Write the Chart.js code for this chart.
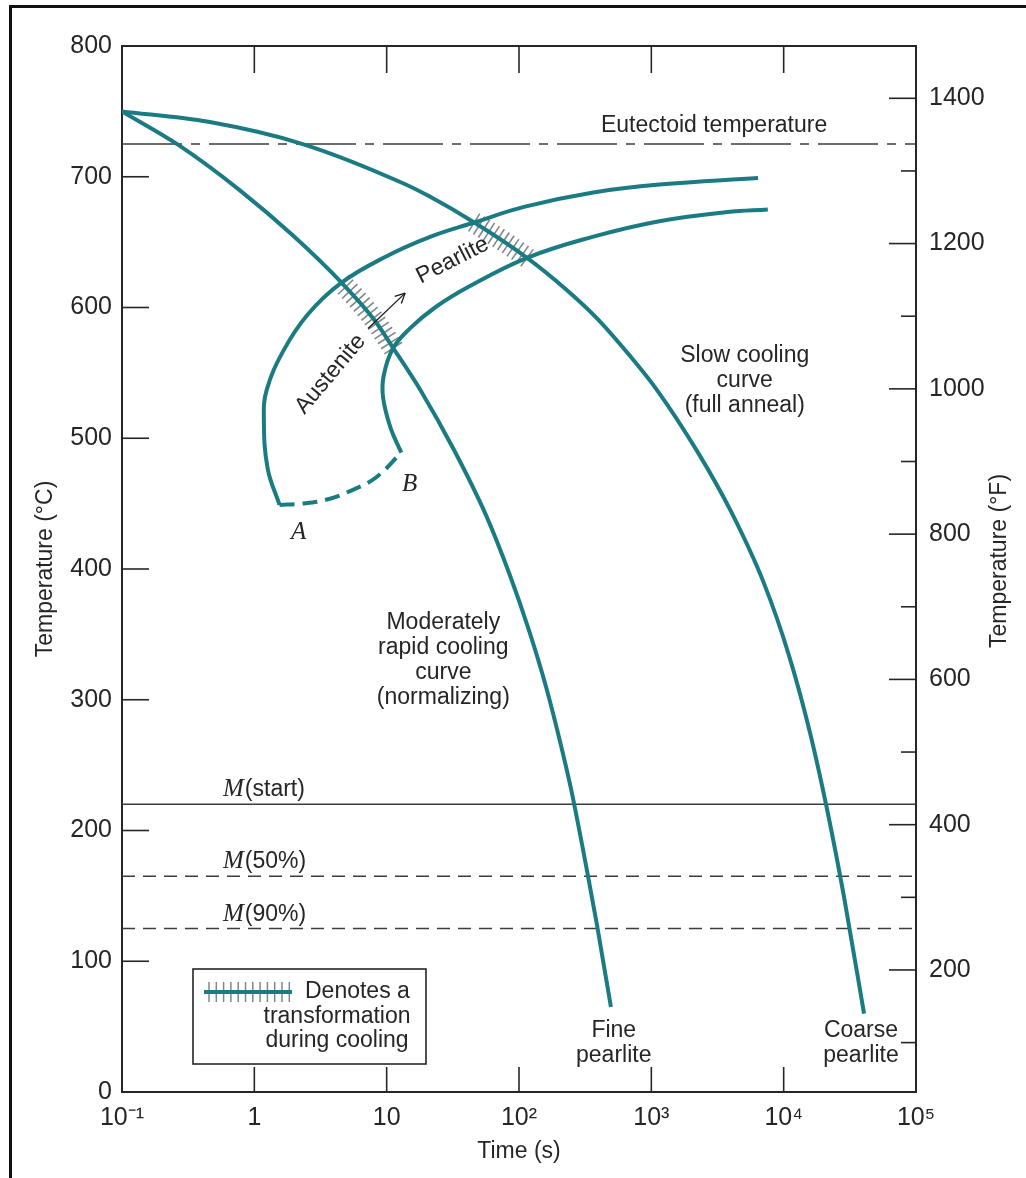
<!DOCTYPE html>
<html lang="en">
<head>
<meta charset="utf-8">
<title>Cooling curves on a continuous-cooling transformation diagram</title>
<script src="https://cdn.jsdelivr.net/npm/chart.js@4.4.1/dist/chart.umd.min.js"></script>
<style>
  html, body { margin: 0; padding: 0; background: #fff; }
  #wrap { position: relative; width: 1026px; height: 1178px; overflow: hidden; }
  #chart { position: absolute; left: 0; top: 0; }
  #frame { position: absolute; left: 9px; top: 5px; width: 1100px; height: 1300px;
           border-top: 3px solid #111; border-left: 3px solid #111; pointer-events: none; }
</style>
</head>
<body>
<div id="wrap">
  <canvas id="chart" width="1026" height="1178"></canvas>
  <div id="frame"></div>
</div>
<script>
// ---- Axes -------------------------------------------------------------
const TIME_TICKS = [0.1, 1, 10, 100, 1000, 10000, 100000];
const TIME_TICK_LABELS = ['10⁻¹', '1', '10', '10²', '10³', '10⁴', '10⁵'];
const TEMP_C_TICKS = [0, 100, 200, 300, 400, 500, 600, 700, 800];
const TEMP_F_TICKS = [200, 400, 600, 800, 1000, 1200, 1400];
const TEMP_F_MINOR = [100, 300, 500, 700, 900, 1100, 1300];

// ---- Cooling curves (time in s, temperature in °C) --------------------
const NORMALIZING_TIME = [0.1, 0.27, 0.77, 1.96, 4.56, 8.0, 11.2, 18.2, 32.3, 56.4, 85.5, 119, 160, 201, 247, 327, 388, 495];
const NORMALIZING_TEMP = [750, 724, 690, 655, 619, 591, 569, 536, 491, 441, 395, 353, 310, 271, 232, 169, 128, 65];

const SLOW_TIME = [0.1, 0.45, 2.32, 13.3, 21, 45.9, 115, 226, 395, 690, 1084, 2254, 4000, 7100, 10960, 15800, 21600, 28600, 40500];
const SLOW_TEMP = [750, 742, 725, 695, 685, 665, 638, 614, 591, 563, 538, 489, 444, 389, 334, 275, 213, 149, 60];

// ---- Pearlite transformation start / finish curves ---------------------
const START_TIME = [1.55, 1.26, 1.18, 1.24, 1.66, 2.55, 4.56, 9.9, 21.3, 45.9, 109, 364, 1150, 6400];
const START_TEMP = [449, 477, 515, 537, 567, 595, 619, 639, 654, 665, 677, 688, 694, 699];

const FINISH_TIME = [12.9, 10.7, 9.4, 9.5, 11.2, 15.0, 23.2, 41.9, 115, 359, 1148, 3750, 7590];
const FINISH_TEMP = [489, 508, 531, 548, 569, 584, 600, 616, 638, 654, 666, 673, 675];

// Dashed A–B boundary
const AB_TIME = [1.55, 2.27, 3.49, 5.4, 8.3, 12.9];
const AB_TEMP = [449, 450, 453, 460, 470, 489];

// ---- Reference temperatures (°C) --------------------------------------
const EUTECTOID_TEMP = 725;
const M_NAMES = ['start', '50%', '90%'];
const M_TEMPS = [220, 165, 125];

// ---- Transformation intervals along each cooling curve (s) ------------
const TRANSFORM_SERIES = [0, 1];          // normalizing, slow cooling
const TRANSFORM_FROM = [4.56, 45.9];
const TRANSFORM_TO = [11.2, 115];

// ---- Annotation text and where it sits (time s, °C) --------------------
const NOTE_TEXT = ['Eutectoid temperature', 'Slow cooling\ncurve\n(full anneal)',
                   'Moderately\nrapid cooling\ncurve\n(normalizing)', 'Fine\npearlite',
                   'Coarse\npearlite', 'Austenite', 'Pearlite'];
const NOTE_TIME = [2980, 5080, 26.8, 520, 38400, 3.76, 31.5];
const NOTE_TEMP = [739, 544, 330, 37, 37, 549, 636];
const NOTE_ANGLE = [0, 0, 0, 0, 0, -50, -27];
const POINT_NAMES = ['A', 'B'];
const POINT_TIME = [2.16, 14.9];
const POINT_TEMP = [428, 465];
const ARROW_TIME = [7.23, 13.8];
const ARROW_TEMP = [584, 611];
const M_LABEL_TIME = 0.58;

// ---- Styling ------------------------------------------------------------
const TEAL = '#1b7b83';
const INK = '#262626';
const RULE = '#3c3c3c';
const HATCH_COLOR = '#7f8788';
const SANS = '"Liberation Sans", Arial, Helvetica, sans-serif';
const SERIF = '"Liberation Serif", "Times New Roman", serif';

const toPoints = (xs, ys) => xs.map((x, i) => ({ x, y: ys[i] }));
const across = (T) => [{ x: TIME_TICKS[0], y: T }, { x: TIME_TICKS[TIME_TICKS.length - 1], y: T }];

function curve(label, xs, ys, extra) {
  return Object.assign({
    label, data: toPoints(xs, ys), showLine: true, borderColor: TEAL, borderWidth: 4,
    pointRadius: 0, pointHoverRadius: 0, tension: 0.4, fill: false
  }, extra || {});
}
function rule(label, T, dash) {
  return {
    label, data: across(T), showLine: true, borderColor: RULE, borderWidth: 1.5,
    borderDash: dash, pointRadius: 0, pointHoverRadius: 0, tension: 0, fill: false
  };
}

const datasets = [
  curve('Moderately rapid cooling curve (normalizing)', NORMALIZING_TIME, NORMALIZING_TEMP,
        { cubicInterpolationMode: 'monotone' }),
  curve('Slow cooling curve (full anneal)', SLOW_TIME, SLOW_TEMP,
        { cubicInterpolationMode: 'monotone' }),
  curve('Transformation start', START_TIME, START_TEMP),
  curve('Transformation finish', FINISH_TIME, FINISH_TEMP),
  curve('A–B', AB_TIME, AB_TEMP, { borderDash: [15, 8] }),
  rule('Eutectoid temperature', EUTECTOID_TEMP, [60, 9, 9, 9]),
  rule('M(start)', M_TEMPS[0], []),
  rule('M(50%)', M_TEMPS[1], [13, 8]),
  rule('M(90%)', M_TEMPS[2], [13, 8])
];

// ---- Drawing helpers ----------------------------------------------------
function text(ctx, str, x, y, o) {
  o = o || {};
  ctx.save();
  ctx.font = o.font || `23px ${SANS}`;
  ctx.fillStyle = o.color || INK;
  ctx.textAlign = o.align || 'center';
  ctx.textBaseline = o.baseline || 'middle';
  ctx.translate(x, y);
  if (o.rotate) ctx.rotate(o.rotate * Math.PI / 180);
  const lines = String(str).split('\n');
  const lh = o.lineHeight || 25;
  const y0 = -(lines.length - 1) * lh / 2;
  lines.forEach((ln, i) => ctx.fillText(ln, 0, y0 + i * lh));
  ctx.restore();
}
function seg(ctx, x1, y1, x2, y2) {
  ctx.beginPath(); ctx.moveTo(x1, y1); ctx.lineTo(x2, y2); ctx.stroke();
}
function sampleCurve(meta) {
  const p = meta.data, out = [];
  for (let i = 0; i < p.length - 1; i++) {
    const a = p[i], b = p[i + 1];
    const c1x = a.cp2x ?? a.x, c1y = a.cp2y ?? a.y, c2x = b.cp1x ?? b.x, c2y = b.cp1y ?? b.y;
    for (let k = 0; k < 30; k++) {
      const s = k / 30, u = 1 - s;
      out.push({
        x: u * u * u * a.x + 3 * u * u * s * c1x + 3 * u * s * s * c2x + s * s * s * b.x,
        y: u * u * u * a.y + 3 * u * u * s * c1y + 3 * u * s * s * c2y + s * s * s * b.y
      });
    }
  }
  const last = p[p.length - 1];
  out.push({ x: last.x, y: last.y });
  return out;
}

// Hatch marks across a cooling curve where it passes through the transformation band
const hatching = {
  id: 'hatching',
  beforeDatasetsDraw(chart) {
    const ctx = chart.ctx, xs = chart.scales.x;
    const GAP = 5.8, LEN = 21;
    ctx.save();
    ctx.strokeStyle = HATCH_COLOR;
    ctx.lineWidth = 1.6;
    TRANSFORM_SERIES.forEach((di, h) => {
      const meta = chart.getDatasetMeta(di);
      meta.dataset.updateControlPoints(chart.chartArea, 'x');
      const x0 = xs.getPixelForValue(TRANSFORM_FROM[h]);
      const x1 = xs.getPixelForValue(TRANSFORM_TO[h]);
      const pts = sampleCurve(meta).filter(q => q.x >= x0 - 0.5 && q.x <= x1 + 0.5);
      if (pts.length < 2) return;
      const L = [0];
      for (let i = 1; i < pts.length; i++) {
        L.push(L[i - 1] + Math.hypot(pts[i].x - pts[i - 1].x, pts[i].y - pts[i - 1].y));
      }
      const total = L[L.length - 1];
      const n = Math.max(1, Math.round(total / GAP));
      let j = 0;
      for (let m = 0; m <= n; m++) {
        const d = total * m / n;
        while (j < pts.length - 2 && L[j + 1] < d) j++;
        const a = pts[j], b = pts[j + 1];
        const f = (d - L[j]) / ((L[j + 1] - L[j]) || 1);
        const px = a.x + (b.x - a.x) * f, py = a.y + (b.y - a.y) * f;
        const len = Math.hypot(b.x - a.x, b.y - a.y) || 1;
        const nx = -(b.y - a.y) / len, ny = (b.x - a.x) / len;
        seg(ctx, px - nx * LEN / 2, py - ny * LEN / 2, px + nx * LEN / 2, py + ny * LEN / 2);
      }
    });
    ctx.restore();
  }
};

// Inward tick marks, annotations, legend box and the °F axis title
const decorations = {
  id: 'decorations',
  afterDatasetsDraw(chart) {
    const ctx = chart.ctx;
    const { left, right, top, bottom } = chart.chartArea;
    const xs = chart.scales.x, ys = chart.scales.y, yf = chart.scales.y2;
    const X = t => xs.getPixelForValue(t), Y = T => ys.getPixelForValue(T);

    ctx.save();
    ctx.strokeStyle = INK;
    ctx.lineWidth = 1.6;
    TIME_TICKS.slice(1, -1).forEach(t => {
      seg(ctx, X(t), top, X(t), top + 27);
      seg(ctx, X(t), bottom, X(t), bottom - 25);
    });
    TEMP_C_TICKS.slice(1, -1).forEach(T => seg(ctx, left, Y(T), left + 27, Y(T)));
    TEMP_F_TICKS.forEach(F => seg(ctx, right, yf.getPixelForValue(F), right - 27, yf.getPixelForValue(F)));
    TEMP_F_MINOR.forEach(F => seg(ctx, right, yf.getPixelForValue(F), right - 15, yf.getPixelForValue(F)));
    ctx.restore();

    // text notes
    NOTE_TEXT.forEach((s, i) => text(ctx, s, X(NOTE_TIME[i]), Y(NOTE_TEMP[i]), { rotate: NOTE_ANGLE[i] }));

    // A / B end points
    POINT_NAMES.forEach((s, i) => text(ctx, s, X(POINT_TIME[i]), Y(POINT_TEMP[i]),
      { font: `italic 25px ${SERIF}` }));

    // Austenite -> Pearlite arrow
    ctx.save();
    ctx.strokeStyle = '#1a1a1a';
    ctx.lineWidth = 1.3;
    const ax0 = X(ARROW_TIME[0]), ay0 = Y(ARROW_TEMP[0]), ax1 = X(ARROW_TIME[1]), ay1 = Y(ARROW_TEMP[1]);
    seg(ctx, ax0, ay0, ax1, ay1);
    const ang = Math.atan2(ay1 - ay0, ax1 - ax0);
    [-0.45, 0.45].forEach(da => seg(ctx, ax1, ay1, ax1 - 11 * Math.cos(ang + da), ay1 - 11 * Math.sin(ang + da)));
    ctx.restore();

    // martensite level labels
    M_NAMES.forEach((nm, i) => {
      const x = X(M_LABEL_TIME), y = Y(M_TEMPS[i]) - 8;
      ctx.save();
      ctx.textBaseline = 'alphabetic';
      ctx.textAlign = 'left';
      ctx.fillStyle = INK;
      ctx.font = `italic 25px ${SERIF}`;
      ctx.fillText('M', x, y);
      const w = ctx.measureText('M').width;
      ctx.font = `23px ${SANS}`;
      ctx.fillText(`(${nm})`, x + w + 1, y);
      ctx.restore();
    });

    // legend box
    const bx = left + 71, by = bottom - 123, bw = 233, bh = 95;
    ctx.save();
    ctx.strokeStyle = INK;
    ctx.lineWidth = 1.6;
    ctx.strokeRect(bx, by, bw, bh);
    const ly = by + 23;
    ctx.strokeStyle = HATCH_COLOR;
    ctx.lineWidth = 1.5;
    for (let k = 0; k < 12; k++) {
      const hx = bx + 16 + k * 7.3;
      seg(ctx, hx, ly - 10, hx, ly + 10);
    }
    ctx.strokeStyle = TEAL;
    ctx.lineWidth = 4;
    seg(ctx, bx + 11, ly, bx + 99, ly);
    ctx.restore();
    text(ctx, 'Denotes a', bx + 112, by + 29, { align: 'left', baseline: 'alphabetic' });
    text(ctx, 'transformation', bx + 144, by + 54, { baseline: 'alphabetic' });
    text(ctx, 'during cooling', bx + 144, by + 78, { baseline: 'alphabetic' });

    // °F axis title
    text(ctx, 'Temperature (°F)', right + 84, (top + bottom) / 2 - 8, { rotate: -90 });
  }
};

const tickFont = { family: SANS, size: 25 };
const titleFont = { family: SANS, size: 23 };

new Chart(document.getElementById('chart'), {
  type: 'scatter',
  data: { datasets },
  plugins: [hatching, decorations],
  options: {
    responsive: false,
    animation: false,
    devicePixelRatio: 1,
    events: [],
    layout: { padding: { left: 32, right: 40, top: 46, bottom: 0 } },
    plugins: { legend: { display: false }, tooltip: { enabled: false } },
    scales: {
      x: {
        type: 'logarithmic', position: 'bottom', min: 0.1, max: 100000,
        afterBuildTicks: s => { s.ticks = TIME_TICKS.map(v => ({ value: v })); },
        afterFit: s => { s.height = 86; },
        ticks: {
          autoSkip: false, maxRotation: 0, minRotation: 0, padding: 11, color: INK, font: tickFont,
          callback: v => TIME_TICK_LABELS[TIME_TICKS.indexOf(v)] ?? ''
        },
        grid: { display: false, drawTicks: false },
        border: { display: true, color: INK, width: 2 },
        title: { display: true, text: 'Time (s)', color: INK, font: titleFont,
                 padding: { top: 6, bottom: 13 } }
      },
      xTop: {
        type: 'logarithmic', position: 'top', min: 0.1, max: 100000,
        afterFit: s => { s.height = 0; },
        ticks: { display: false }, grid: { display: false, drawTicks: false },
        border: { display: true, color: INK, width: 2 }
      },
      y: {
        type: 'linear', position: 'left', min: 0, max: 800,
        afterBuildTicks: s => { s.ticks = TEMP_C_TICKS.map(v => ({ value: v })); },
        afterFit: s => { s.width = 90; },
        ticks: { padding: 10, color: INK, font: tickFont, callback: v => String(v) },
        grid: { display: false, drawTicks: false },
        border: { display: true, color: INK, width: 2 },
        title: { display: true, text: 'Temperature (°C)', color: INK, font: titleFont,
                 padding: { top: 0, bottom: 12 } }
      },
      y2: {
        type: 'linear', position: 'right', min: 32, max: 1472,
        afterBuildTicks: s => { s.ticks = TEMP_F_TICKS.map(v => ({ value: v })); },
        afterFit: s => { s.width = 70; },
        ticks: { padding: 13, color: INK, font: tickFont, callback: v => String(v) },
        grid: { display: false, drawTicks: false },
        border: { display: true, color: INK, width: 2 }
      }
    }
  }
});
</script>
</body>
</html>
